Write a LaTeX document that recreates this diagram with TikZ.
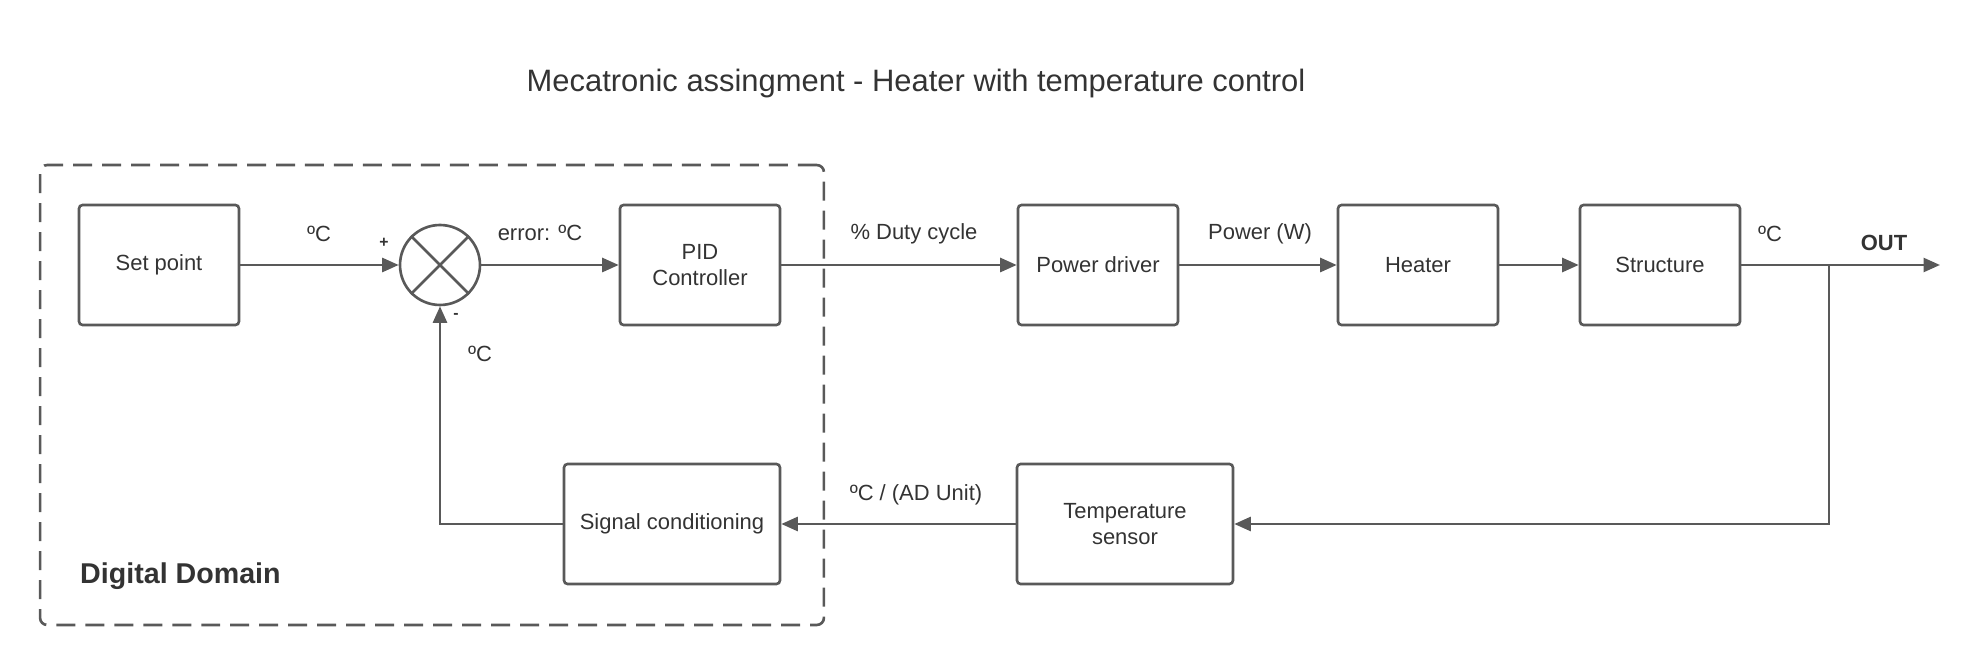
\documentclass[tikz,border=0pt]{standalone}
\usepackage{fontspec}
\setmainfont{Liberation Sans}
\usepackage{tikz}
\usetikzlibrary{arrows.meta,positioning}
\definecolor{linegray}{HTML}{595959}
\definecolor{textgray}{HTML}{333333}
\tikzset{
  block/.style={
    rectangle, rounded corners=2pt, draw=linegray, line width=1.5pt,
    minimum width=3.2cm, minimum height=2.4cm, align=center,
    font=\fontsize{12.5}{15}\selectfont, text=textgray
  },
  wideblock/.style={block, minimum width=4.32cm},
  sumnode/.style={
    circle, draw=linegray, line width=1.5pt, minimum size=1.6cm
  },
  sigarrow/.style={-{Triangle[length=3.3mm,width=2.8mm]}, line width=1.5pt, draw=linegray},
  siglabel/.style={font=\fontsize{12.5}{15}\selectfont, text=textgray},
  signlabel/.style={font=\bfseries\fontsize{9}{10}\selectfont, text=textgray},
  domainbox/.style={
    rectangle, rounded corners=4pt, draw=linegray, line width=1.5pt,
    dash pattern=on 0.38cm off 0.2cm,
    minimum width=15.68cm, minimum height=9.2cm
  },
}

\begin{document}
\begin{tikzpicture}[x=0.02cm, y=-0.02cm]
  \useasboundingbox (0,0) rectangle (1975,665);
  \node[font=\fontsize{17.6}{20}\selectfont, text=textgray] (title) at (916,84) {Mecatronic assingment - Heater with temperature control};
  \node[domainbox] (domain) at (432,395) {};
  \node[font=\bfseries\fontsize{16.3}{18}\selectfont, text=textgray, anchor=west] (domlbl) at (74,576) {Digital Domain};

  % forward path
  \node[block] (set) at (159,265) {Set point};
  \node[sumnode] (sum) at (440,265) {};
  \draw[linegray, line width=1.5pt] (sum.north east) -- (sum.south west) (sum.north west) -- (sum.south east);
  \node[block] (pid) at (700,265) {PID\\Controller};
  \node[block] (drv) at (1098,265) {Power driver};
  \node[block] (heat) at (1418,265) {Heater};
  \node[block] (struct) at (1660,265) {Structure};
  \coordinate (out) at (1940,265);
  \coordinate (tap) at (1829,265);

  % feedback path
  \node[wideblock] (sensor) at (1125,524) {Temperature\\sensor};
  \node[wideblock] (cond) at (672,524) {Signal conditioning};

  \foreach \a/\b in {set/sum,sum/pid,pid/drv,drv/heat,heat/struct,struct/out}
    \draw[sigarrow] (\a) -- (\b);
  \draw[sigarrow] (tap) |- (sensor);
  \draw[sigarrow] (sensor) -- (cond);
  \draw[sigarrow] (cond.west) -| (sum.south);

  % labels
  \node[siglabel] (lsp) at (319,234) {ºC};
  \node[signlabel] (lplus) at (384,243) {+};
  \node[signlabel] (lminus) at (456,316) {-};
  \node[siglabel] (lerr) at (540,233) {error: ºC};
  \node[siglabel] (lfb) at (480,354) {ºC};
  \node[siglabel] (lduty) at (914,234) {\% Duty cycle};
  \node[siglabel] (lpow) at (1260,234) {Power (W)};
  \node[siglabel] (ltemp) at (1770,234) {ºC};
  \node[font=\bfseries\fontsize{12.5}{15}\selectfont, text=textgray] (lout) at (1884,243) {OUT};
  \node[siglabel] (lad) at (916,495) {ºC / (AD Unit)};
\end{tikzpicture}
\end{document}
